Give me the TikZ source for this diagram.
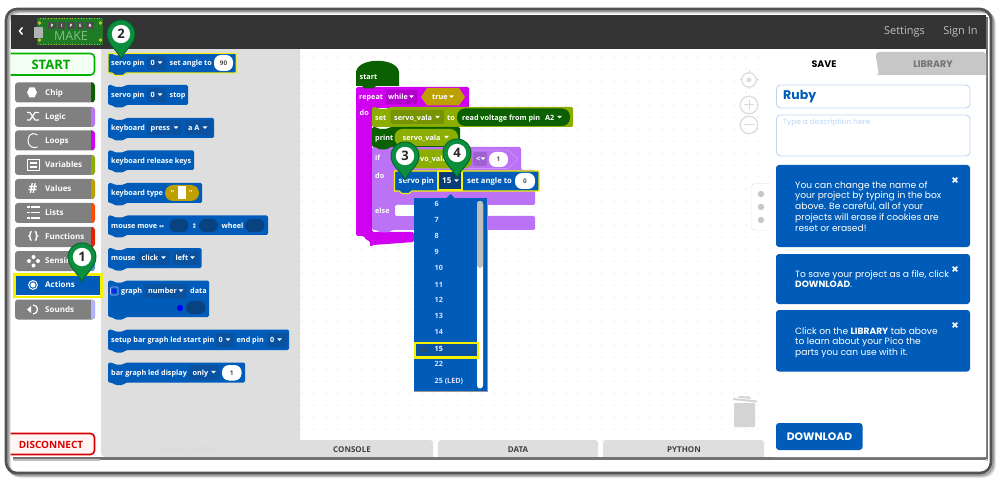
\documentclass[tikz,border=0pt]{standalone}
\usepackage{fontspec}
\setmainfont{Open Sans}
\newfontfamily\pop{Poppins}
\newfontfamily\djv{DejaVu Sans}
\definecolor{bblue}{HTML}{005CB8}
\definecolor{fieldb}{HTML}{0A52A0}
\definecolor{pingreen}{HTML}{0B8F3E}
\definecolor{pindark}{HTML}{06622A}
\definecolor{dgreen}{HTML}{0B6100}
\definecolor{lime}{HTML}{8CAE00}
\definecolor{olive}{HTML}{BDA000}
\definecolor{magen}{HTML}{D000F0}
\definecolor{purp}{HTML}{BC72F5}
\definecolor{catgray}{HTML}{808080}
\definecolor{flygray}{HTML}{DEDEDE}
\definecolor{lineb}{HTML}{BBD7F5}
\definecolor{yel}{HTML}{F5F000}
\definecolor{board}{HTML}{1E7A24}
\newcount\tcnt
\tikzset{
 blocktext/.style={anchor=west,inner sep=0pt,text height=5.4pt,text depth=0pt,text=white,font=\fontsize{7.25}{9}\selectfont\bfseries},
 wstext/.style={blocktext,font=\fontsize{7.7}{9}\selectfont\bfseries},
 cattext/.style={anchor=west,inner sep=0pt,text height=5.8pt,text depth=0pt,text=white,font=\fontsize{8}{9}\selectfont\bfseries},
 ctext/.style={anchor=center,inner sep=0pt},
 paneltext/.style={anchor=north west,inner sep=0pt,text=white,align=left,font=\pop\fontsize{9.1}{10.8}\selectfont},
 field/.style={fill=#1,rounded corners=1.5},
 icon/.style={white,line width=1.2,fill=none},
}
\newcommand{\tx}[4][blocktext]{\global\advance\tcnt by 1 \node[#1] (t\the\tcnt) at ({#2},{#3}) {#4};}
\newcommand{\blk}[5]{\fill[#1,rounded corners=1.5] (#2,#3) -- (#2+4,#3) -- (#2+7,#3+2) -- (#2+15,#3+2) -- (#2+18,#3) -- (#4,#3) -- (#4,#5) -- (#2+18,#5) -- (#2+15,#5+2.5) -- (#2+7,#5+2.5) -- (#2+4,#5) -- (#2,#5) -- cycle;}
\newcommand{\ttri}[2]{\fill[white] (#1-2.4,#2-1.2) -- (#1+2.4,#2-1.2) -- (#1,#2+1.5) -- cycle;}
\newcommand{\fldb}[4]{\fill[field=fieldb] (#1,#2) rectangle (#3,#4);}
\newcommand{\wpill}[5]{\fill[white,rounded corners=7] (#1,#2) rectangle (#3,#4); \tx[ctext,text=black!70,font=\fontsize{6.4}{8}\selectfont\bfseries]{(#1+#3)/2}{(#2+#4)/2}{#5}}
\newcommand{\mapin}[4]{%
 \filldraw[fill=pingreen,draw=pindark,line width=.9] (#1,#3) .. controls (#1-3,#3-8) and (#1-14,#2+10) .. (#1-14,#2) .. controls (#1-14,#2-8) and (#1-8,#2-14) .. (#1,#2-14) .. controls (#1+8,#2-14) and (#1+14,#2-8) .. (#1+14,#2) .. controls (#1+14,#2+10) and (#1+3,#3-8) .. (#1,#3) -- cycle;
 \fill[white] (#1,#2) circle (9.2);
 \global\advance\tcnt by 1 \node[ctext,text=black!85,font=\fontsize{13}{14}\selectfont\bfseries] (t\the\tcnt) at (#1,#2) {#4};}
\newcommand{\catb}[3]{\fill[catgray,rounded corners=3] (15,#1) rectangle (95,#1+20);
 \begin{scope}\clip[rounded corners=3] (15,#1) rectangle (95,#1+20); \fill[#2] (91,#1) rectangle (95,#1+20);\end{scope}
 \tx[cattext]{45}{#1+9.7}{#3}}
\begin{document}
\begin{tikzpicture}[x=1pt,y=-1pt]
\useasboundingbox (0,0) rectangle (1000,486);
\fill[white] (0,0) rectangle (1000,486);
% frame shadow
\foreach \o/\a in {3.5/.07,2.8/.1,2/.14,1.2/.2}{
 \draw[black,opacity=\a,line width=3,rounded corners=11] (6+\o,9+\o) rectangle (991+\o,473+\o);}
\draw[black!68,line width=2.6,rounded corners=11] (6,9) rectangle (991,473);
% screenshot shadow
\fill[black!55] (13,17) rectangle (988,459.5);
\fill[black!25] (13,459) rectangle (988,461);
% screenshot
\fill[white] (11,15) rectangle (986,457);
% canvas dots
\foreach \x in {302,314,...,770}{\foreach \y in {57,69,...,441}{\fill[black!18] (\x,\y) circle (.6);}}
% bottom tabs
\fill[flygray,rounded corners=3] (273,440) rectangle (433,462);
\fill[flygray,rounded corners=3] (438,440) rectangle (598,462);
\fill[flygray,rounded corners=3] (603,440) rectangle (764,462);
\fill[white] (100,459) rectangle (986,463);
\fill[black!55] (100,457) rectangle (986,459.5);
\tx[ctext,text=black!75,font=\fontsize{8}{9}\selectfont\bfseries]{352}{449.5}{CONSOLE}
\tx[ctext,text=black!75,font=\fontsize{8}{9}\selectfont\bfseries]{518}{449.5}{DATA}
\tx[ctext,text=black!75,font=\fontsize{8}{9}\selectfont\bfseries]{684}{449.5}{PYTHON}
% flyout
\fill[flygray,rounded corners=4] (101,46) rectangle (300,457);
\fill[black!55] (101,457) rectangle (300,459.5);
\draw[black!10,rounded corners=3] (107,457) -- (107,440) -- (268,440) -- (268,457);
\tx[ctext,text=black!14,font=\fontsize{8}{9}\selectfont\bfseries]{187}{450}{DIGITAL VIEW}
% header
\fill[black!80] (11,15) rectangle (986,49);
\draw[white,line width=1.5] (22.5,27.5) -- (19.5,31) -- (22.5,34.5);
\tx[ctext,text=black!25,font=\fontsize{11}{12}\selectfont]{904.5}{31.5}{Settings}
\tx[ctext,text=black!25,font=\fontsize{11}{12}\selectfont]{960.5}{31.5}{Sign In}
% logo
\fill[board] (37,18) rectangle (103,45);
\fill[black!30] (34,27) rectangle (43,38);
\foreach \x in {39.5,100.5}{\foreach \y in {23,40}{\draw[yellow!80!black,line width=.8] (\x,\y) circle (1.2);}}
\draw[yellow!70!black,line width=.9,dash pattern=on 1pt off 1.7pt] (40,18.8) -- (102,18.8) (40,44.2) -- (102,44.2);
\foreach \x/\c in {52/P,61.5/I,71/P,80.5/E,90/R}{
 \fill[black!70] (\x-3.7,22.5) rectangle (\x+3.7,29.5);
 \tx[ctext,text=white,font=\fontsize{4.5}{5}\selectfont\bfseries]{\x}{26}{\c}}
\tx[ctext,text=green!30!white!75!black,font=\fontsize{12.5}{13}\selectfont]{71}{36.5}{MAKE}
% sidebar
\fill[white] (11,49) rectangle (101,457);
\filldraw[fill=green!5,draw=green!70!black,line width=1.6,rounded corners=4] (10.5,53.5) -- (94.5,53.5) -- (94.5,75) -- (10.5,75);
\tx[ctext,text=green!65!black,font=\fontsize{13}{14}\selectfont\bfseries]{51}{64.5}{START}
\filldraw[fill=red!4,draw=red!85!black,line width=1.6,rounded corners=4] (10.5,433.5) -- (94.5,433.5) -- (94.5,454.5) -- (10.5,454.5);
\tx[ctext,text=red!85!black,font=\fontsize{10}{11}\selectfont\bfseries]{51}{444.5}{DISCONNECT}
\catb{82.5}{dgreen}{Chip}
\catb{107}{purp}{Logic}
\catb{130.5}{magen}{Loops}
\catb{155}{lime}{Variables}
\catb{179}{olive}{Values}
\catb{203}{orange!60!red}{Lists}
\catb{227}{red!70!orange!90!black}{Functions}
\catb{251}{cyan!60!blue!70}{Sensing}
\fill[bblue] (15,276) rectangle (101,295);
\tx[cattext]{45}{285}{Actions}
\catb{299.5}{blue!30!white}{Sounds}
\draw[yel,line width=2.4] (14.5,274.5) rectangle (101.5,297);
% category icons
\fill[white] (27,92.5) -- (29.5,87.5) -- (34.5,87.5) -- (37,92.5) -- (34.5,97.5) -- (29.5,97.5) -- cycle;
\draw[icon] (27,112.5) -- (30,112.5) -- (35,120) -- (39,120) (27,120) -- (30,120) -- (35,112.5) -- (39,112.5);
\draw[icon,line width=1] (37.5,135) .. controls (30,131) and (28,137) .. (28,141) .. controls (28,146) and (33,149) .. (37.5,147);
\draw[icon] (27.5,159.5) rectangle (39.5,170.5) (30,163) -- (37,163) (30,167) -- (37,167);
\tx[ctext,font=\fontsize{14}{14}\selectfont\bfseries,text=white]{33}{188.5}{\#}
\foreach \y in {207,212.5,218}{\draw[icon,line width=1.4] (31,\y) -- (40,\y); \draw[icon,line width=1.4] (27,\y) -- (29.5,\y);}
\tx[ctext,font=\fontsize{11}{12}\selectfont\bfseries,text=white]{33.5}{236}{\{\,\}}
\foreach \a/\b in {33.5/257,33.5/265.5,29/261,38/261}{\fill[white] (\a,\b) circle (2);}
\draw[white,line width=1] (33,285) circle (4.4); \fill[white] (33,285) circle (2.6);
\fill[white] (27,309.5) -- (31,306) -- (31,313) -- cycle; \draw[icon] (33,305) .. controls (39,305) and (39,314) .. (33,314);
% palette blocks
\blk{bblue}{108}{53.5}{236}{73}
\draw[yel,line width=1] (108,53.5) -- (236,53.5) -- (236,73) -- (126,73) -- (123,75.5) -- (115,75.5) -- (112,73) -- (108,73) -- cycle;
\tx{111}{63}{servo pin}
\fldb{147}{56}{166}{70} \tx{150.5}{63}{0} \ttri{160}{62.5}
\tx{169.5}{63}{set angle to}
\wpill{214}{55}{233}{71}{90}
\blk{bblue}{108}{85}{188}{105}
\tx{111}{95}{servo pin} \fldb{147}{88}{166}{102} \tx{150.5}{95}{0} \ttri{160}{94.5} \tx{169.5}{95}{stop}
\blk{bblue}{108}{118}{214}{138}
\tx{111}{128}{keyboard} \fldb{147}{120.5}{181}{135} \tx{150.5}{128}{press} \ttri{176}{127.5} \fldb{184.5}{120.5}{212}{135} \tx{188}{128}{a A} \ttri{205}{127.5}
\blk{bblue}{108}{150.5}{194}{170}
\tx{111}{160.5}{keyboard release keys}
\blk{bblue}{108}{183}{202}{203}
\tx{111}{193}{keyboard type}
\fill[olive,rounded corners=8] (165,185) rectangle (199,201);
\fill[white] (177.5,186.5) rectangle (185.5,199.5);
\tx[ctext,text=white,font=\fontsize{7}{7}\selectfont\bfseries]{172.5}{193}{“}
\tx[ctext,text=white,font=\fontsize{7}{7}\selectfont\bfseries]{191}{193}{”}
\blk{bblue}{108}{215.5}{268}{235}
\tx{111}{225.5}{mouse move {\djv\fontsize{6}{8}\selectfont ↔}}
\fill[fieldb!80!black,rounded corners=6.5] (169,219) rectangle (188.5,232);
\tx{191.5}{225.5}{{\djv\fontsize{6.5}{8}\selectfont ↕}}
\fill[fieldb!80!black,rounded corners=6.5] (199,219) rectangle (218,232);
\tx{221.5}{225.5}{wheel}
\fill[fieldb!80!black,rounded corners=6.5] (245,219) rectangle (264.5,232);
\blk{bblue}{108}{248}{201.5}{268}
\tx{111}{258}{mouse} \fldb{138}{251}{170}{265} \tx{141.5}{258}{click} \ttri{163.5}{257.5} \fldb{172.5}{251}{199}{265} \tx{175.5}{258}{left} \ttri{192.5}{257.5}
\blk{bblue}{108}{280.5}{209}{317}
\draw[white!70!blue,line width=.6,rounded corners=1] (110.5,287) rectangle (118,295);
\fill[blue!90!white] (114.2,291) circle (2.2);
\tx{121}{291}{graph} \fldb{144.5}{284}{187}{298} \tx{148}{291}{number} \ttri{181}{290.5} \tx{190}{291}{data}
\fill[blue] (180,308) circle (3.2);
\fill[fieldb!80!black,rounded corners=6.5] (186,301) rectangle (205.5,314);
\blk{bblue}{108}{329.5}{289}{350}
\tx{111}{340}{setup bar graph led start pin} \fldb{215.5}{333}{234}{347} \tx{218.5}{340}{0} \ttri{228}{339.5} \tx{236.5}{340}{end pin} \fldb{267}{333}{287}{347} \tx{270}{340}{0} \ttri{279.5}{339.5}
\blk{bblue}{108}{362.5}{245}{382.5}
\tx{111}{372.5}{bar graph led display} \fldb{189}{365}{219}{380} \tx{192.5}{372.5}{only} \ttri{213.5}{372}
\wpill{222}{365}{241.5}{380.5}{1}
% workspace: repeat
\fill[magen,rounded corners=1.5] (356,87) -- (469,87) -- (469,108) -- (372,108) -- (372,232) -- (414,232) -- (414,242) -- (373,245) -- (370,247) -- (370,241) -- (366,240) -- (364,236) -- (356,236) -- cycle;
\fill[dgreen] (356,86) -- (356,72) .. controls (358,57) and (397,57) .. (399,72) -- (399,86) -- (376,86) -- (373,88.5) -- (365,88.5) -- (362,86) -- cycle;
\tx{359.5}{77}{start}
\tx{359}{97}{repeat}
\tx{359.5}{112.5}{do}
\fill[field=magen!85!black] (385.5,90) rectangle (417,104); \tx{388}{97}{while} \ttri{411.5}{96.5}
\fill[olive] (421,97) -- (427,88) -- (459,88) -- (465,97) -- (459,105.5) -- (427,105.5) -- cycle;
\tx{432}{97}{true} \ttri{451.5}{96.5}
% if block
\fill[purp,rounded corners=1.5] (372,147) -- (521,147) -- (521,170) -- (535,170) -- (535,205) -- (395,205) -- (395,216) -- (535,216) -- (535,230) -- (392,230) -- (389,232.5) -- (380,232.5) -- (377,230) -- (372,230) -- cycle;
\fill[white,rounded corners=1.5] (395,205) rectangle (414,216);
\tx{375}{158}{if}
\tx{375}{175.5}{do}
\tx{375}{211}{else}
\draw[purp!75!white,line width=.6] (398,150) -- (508,150) -- (518,159) -- (508,168.5) -- (398,168.5);
\fill[lime,rounded corners=8] (396,149.5) rectangle (472,168.5);
\tx{420}{159}{vo\_vala}
\fill[field=purp!85!black] (473,152) rectangle (487,166); \tx{476}{159}{<} \ttri{483}{158.5}
\wpill{489}{152}{508}{167}{1}
% set
\fill[lime,rounded corners=1.5] (372,107) -- (376,107) -- (379,109) -- (387,109) -- (390,107) -- (573,107) -- (573,127) -- (372,127) -- cycle;
\tx{375}{117.5}{set}
\fill[field=lime!85!black] (390.5,110) rectangle (444,124); \tx{394}{117.5}{servo\_vala} \ttri{437.5}{117}
\tx{447}{117.5}{to}
\fill[dgreen,rounded corners=8] (457,108.5) rectangle (570,126);
\tx{462}{117.5}{read voltage from pin}
\tx{545}{117.5}{A2} \ttri{559.5}{117}
% print
\blk{dgreen}{372}{127}{460}{147}
\tx{375}{137.5}{print}
\fill[lime,rounded corners=8] (394.5,129) rectangle (458,146); \tx{402.5}{137.5}{servo\_vala} \ttri{446.5}{137}
% servo block
\blk{bblue}{394.5}{171}{539}{191}
\draw[yel,line width=1.1] (394.5,171) -- (539,171) -- (539,191) -- (412,191) -- (409,193.5) -- (402,193.5) -- (399,191) -- (394.5,191) -- cycle;
\tx[wstext]{398.5}{181}{servo pin}
\filldraw[fill=fieldb!75!black,draw=yel,line width=2] (437.5,171.5) rectangle (462,190.5);
\tx[blocktext,font=\fontsize{8}{9}\selectfont\bfseries]{442}{181}{15} \ttri{456.5}{180.5}
\tx[wstext]{467}{181}{set angle to}
\wpill{515}{173}{535}{189}{0}
% dropdown
\fill[black!40] (413.5,198) rectangle (487.5,391.5);
\fill[bblue] (414,198.5) rectangle (487,391);
\fill[bblue] (446,198.5) -- (450.5,194) -- (455,198.5) -- cycle;
\fill[white,rounded corners=3] (477,201) rectangle (483,388.5);
\fill[black!25,rounded corners=3] (477,201) rectangle (483,268);
\foreach \l/\y in {6/204,7/219.5,8/236,9/251.5,10/268,11/284.5,12/300,13/316,14/332,22/364,25 (LED)/380.5}{
 \tx[blocktext,font=\fontsize{7.2}{9}\selectfont\bfseries,text=white!88!blue]{434.5}{\y}{\l}}
\fill[fieldb] (415,344) rectangle (478,356.5);
\draw[yel,line width=2.2] (415,343) rectangle (478,357.5);
\tx[blocktext,font=\fontsize{7.2}{9}\selectfont\bfseries]{434.5}{349}{15}
\draw[black!75,line width=.9] (422,349.5) -- (423.5,352) -- (426,346.5);
% controls
\foreach \y/\r in {80/7.2,105/8.8,125/8.8}{\draw[black!14,line width=1.2] (749,\y) circle (\r);}
\fill[black!14] (749,80) circle (2.4);
\draw[black!14,line width=1] (749,70.5) -- (749,73) (749,87) -- (749,89.5) (739.5,80) -- (742,80) (756,80) -- (758.5,80);
\draw[black!14,line width=1] (744,105) -- (754,105) (749,100) -- (749,110) (744,125) -- (754,125);
% trash
\fill[black!17,rounded corners=1] (734,403) rectangle (755,427);
\fill[black!17] (733,398) -- (757,400.5) -- (757,402.5) -- (733,400) -- cycle;
\fill[black!17] (738,397.5) -- (739,396) -- (749,396.5) -- (751,399) -- cycle;
% handle
\fill[black!8,rounded corners=3] (751.5,183.5) rectangle (775,230.5);
\fill[white,rounded corners=3] (752,184) rectangle (775,230);
\foreach \y in {194,207,220}{\fill[black!22] (761,\y) circle (3.2);}
% right panel
\fill[white,rounded corners=3] (770,52) rectangle (986,457);
\fill[black!22,rounded corners=3] (876,52) rectangle (986,80);
\fill[white] (770,75) rectangle (986,82);
\fill[white,rounded corners=3] (770,52) -- (875,52) -- (879,75) -- (770,75) -- cycle;
\tx[ctext,text=black,font=\pop\fontsize{9.5}{10}\selectfont\bfseries]{824}{64}{SAVE}
\tx[ctext,text=black!55,font=\pop\fontsize{9.5}{10}\selectfont\bfseries]{933}{64}{LIBRARY}
\draw[lineb,line width=.9,rounded corners=4] (776.5,85) rectangle (970,108);
\tx[anchor=west,inner sep=0pt,text=bblue,font=\pop\fontsize{12.5}{14}\selectfont\bfseries]{783}{97}{Ruby}
\draw[lineb,line width=.9,rounded corners=4] (776.5,115) rectangle (970,156);
\tx[anchor=west,inner sep=0pt,text=lineb,font=\pop\fontsize{7.4}{9}\selectfont]{783}{123}{Type a description here}
\fill[bblue,rounded corners=3] (776,165) rectangle (970,247);
\fill[bblue,rounded corners=3] (776,254) rectangle (970,304);
\fill[bblue,rounded corners=3] (776,310) rectangle (970,371.5);
\tx[paneltext]{795}{181}{You can change the name of\\your project by typing in the box\\above. Be careful, all of your\\projects will erase if cookies are\\reset or erased!}
\tx[paneltext]{795}{270}{To save your project as a file, click\\\textbf{DOWNLOAD}.}
\tx[paneltext]{795}{327}{Click on the \textbf{LIBRARY} tab above\\to learn about your Pico the\\parts you can use with it.}
\foreach \y in {180,269,325}{\draw[white,line width=1.6] (952.7,\y-2.3) -- (957.3,\y+2.3) (952.7,\y+2.3) -- (957.3,\y-2.3);}
\fill[bblue,rounded corners=3] (776,423) rectangle (862.5,450);
\tx[ctext,text=white,font=\pop\fontsize{10.8}{12}\selectfont\bfseries]{819.5}{437}{DOWNLOAD}
% markers
\mapin{82}{257}{282}{1}
\mapin{121}{34}{59}{2}
\mapin{405}{156}{180}{3}
\mapin{457}{153}{178}{4}
\end{tikzpicture}
\end{document}
